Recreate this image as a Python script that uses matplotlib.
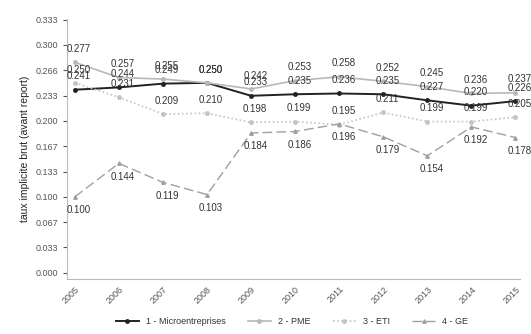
import matplotlib
matplotlib.use("Agg")
import matplotlib.pyplot as plt

plt.rcParams['font.family'] = ['Liberation Sans', 'DejaVu Sans']

# Données
annees = [2005, 2006, 2007, 2008, 2009, 2010, 2011, 2012, 2013, 2014, 2015]
micro = [0.241, 0.244, 0.249, 0.250, 0.233, 0.235, 0.236, 0.235, 0.227, 0.220, 0.226]
pme = [0.277, 0.257, 0.255, 0.250, 0.242, 0.253, 0.258, 0.252, 0.245, 0.236, 0.237]
eti = [0.250, 0.231, 0.209, 0.210, 0.198, 0.199, 0.195, 0.211, 0.199, 0.199, 0.205]
ge = [0.100, 0.144, 0.119, 0.103, 0.184, 0.186, 0.196, 0.179, 0.154, 0.192, 0.178]
y_ticks = [0.0, 1/30, 2/30, 3/30, 4/30, 5/30, 6/30, 7/30, 8/30, 9/30, 10/30]
y_labels = ['0.000', '0.033', '0.067', '0.100', '0.133', '0.167', '0.200',
            '0.233', '0.266', '0.300', '0.333']

fig = plt.figure(figsize=(5.31, 3.34), dpi=100)
ax = fig.add_axes([0.126, 0.165, 0.853, 0.778])

series = [
    ('1 - Microentreprises', micro, dict(color='#222222', lw=1.4, ls='-', marker='o', ms=2.5), 1),
    ('2 - PME', pme, dict(color='#b8b8b8', lw=1.2, ls='-', marker='o', ms=2.5), 1),
    ('3 - ETI', eti, dict(color='#c4c4c4', lw=1.2, ls=(0, (1, 1.5)), marker='o', ms=2.5), 1),
    ('4 - GE', ge, dict(color='#a0a0a0', lw=1.0, ls=(0, (7, 3)), marker='^', ms=2.5), -1),
]

for nom, vals, style, sens in series:
    ax.plot(annees, vals, label=nom, **style)
    for x, v in zip(annees, vals):
        ax.annotate(f"{v:.3f}", (x, v), xytext=(3, 6 * sens), textcoords='offset points',
                    ha='center', va='bottom' if sens > 0 else 'top',
                    fontsize=7, color='#333333')

ax.set_xlim(2004.82, 2015.1)
ax.set_ylim(-0.008, 0.334)
ax.set_yticks(y_ticks)
ax.set_yticklabels(y_labels)
ax.set_xticks(annees)
ax.set_xticklabels([str(a) for a in annees], rotation=45, ha='right',
                   rotation_mode='anchor')
ax.tick_params(labelsize=6.5, colors='#555555', length=3)
ax.tick_params(axis='x', length=0, pad=4)
ax.set_ylabel('taux implicite brut (avant report)', fontsize=7.5, color='#222222')

for s in ['top', 'right']:
    ax.spines[s].set_visible(False)
for s in ['left', 'bottom']:
    ax.spines[s].set_color('#bbbbbb')

fig.legend(loc='lower center', ncol=4, frameon=False, fontsize=6.5,
           bbox_to_anchor=(0.55, 0.0), handlelength=2.5, columnspacing=2.5,
           labelcolor='#333333')

plt.savefig('out.png', dpi=100)
plt.close()
